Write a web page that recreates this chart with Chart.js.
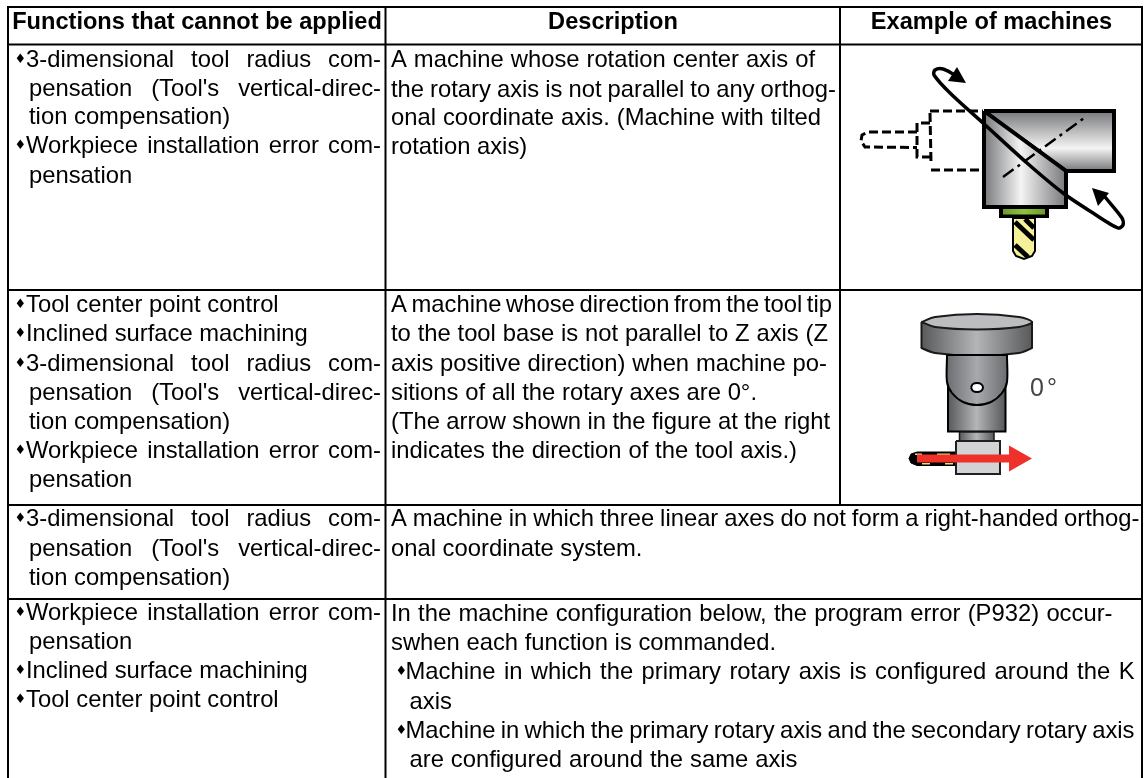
<!DOCTYPE html>
<html>
<head>
<meta charset="utf-8">
<style>
  html, body { margin: 0; padding: 0; background: #fff; }
  canvas { display: block; }
</style>
<script src="https://cdn.jsdelivr.net/npm/chart.js@4/dist/chart.umd.min.js"></script>
</head>
<body>
<canvas id="tabela" width="1148" height="778"></canvas>
<script>
// Table text
const headerLabels = ['Functions that cannot be applied', 'Description', 'Example of machines'];
const functionsRow1 = ['♦3-dimensional tool radius com-', "pensation (Tool's vertical-direc-", 'tion compensation)', '♦Workpiece installation error com-', 'pensation'];
const functionsRow2 = ['♦Tool center point control', '♦Inclined surface machining', '♦3-dimensional tool radius com-', "pensation (Tool's vertical-direc-", 'tion compensation)', '♦Workpiece installation error com-', 'pensation'];
const functionsRow3 = ['♦3-dimensional tool radius com-', "pensation (Tool's vertical-direc-", 'tion compensation)'];
const functionsRow4 = ['♦Workpiece installation error com-', 'pensation', '♦Inclined surface machining', '♦Tool center point control'];
const descriptionRow1 = ['A machine whose rotation center axis of', 'the rotary axis is not parallel to any orthog-', 'onal coordinate axis. (Machine with tilted', 'rotation axis)'];
const descriptionRow2 = ['A machine whose direction from the tool tip', 'to the tool base is not parallel to Z axis (Z', 'axis positive direction) when machine po-', 'sitions of all the rotary axes are 0°.', '(The arrow shown in the figure at the right', 'indicates the direction of the tool axis.)'];
const descriptionRow3 = ['A machine in which three linear axes do not form a right-handed orthog-', 'onal coordinate system.'];
const descriptionRow4 = ['In the machine configuration below, the program error (P932) occur-', 'swhen each function is commanded.', '♦Machine in which the primary rotary axis is configured around the K', 'axis', '♦Machine in which the primary rotary axis and the secondary rotary axis', 'are configured around the same axis'];
const angleLabel = '0°';

// Table rules
const ruleTop = [[7, 1143], [7, 7]];
const ruleHeader = [[7, 1143], [44.5, 44.5]];
const ruleRow1 = [[7, 1143], [290, 290]];
const ruleRow2 = [[7, 1143], [505, 505]];
const ruleRow3 = [[7, 1143], [599, 599]];
const ruleLeft = [[8, 8], [6, 778]];
const ruleCol1 = [[385.5, 385.5], [6, 778]];
const ruleCol2 = [[840, 840], [6, 505]];
const ruleRight = [[1142, 1142], [6, 778]];

// Upper figure (tilted rotation axis)
const arm = [[984, 111], [1114, 111], [1114, 171], [1066, 171]];
const head = [[984, 111], [1066, 171], [1066, 207], [984, 207]];
const centerLine = [[1003, 177], [1087, 116]];
const dashHeadTop = [[930, 111], [983, 111]];
const dashHeadBottom = [[931, 170], [983, 170]];
const dashHeadSide = [[930, 113], [931, 163]];
const dashCollar = [[930, 123], [917, 123], [917, 157], [930, 157]];
const dashTool = [[917, 132], [868, 132], [862, 135], [861, 141], [865, 147], [917, 147.5]];
const collarBlack = [[999, 205], [1049, 205], [1049, 218], [999, 218]];
const collarGreen = [[1003, 209], [1045, 209], [1045, 214.5], [1003, 214.5]];
const tiltedTool = [[1013, 218], [1035, 218], [1035, 251], [1032, 256], [1024, 259], [1016, 256], [1013, 251]];
const toolStripeA = [[1025, 219], [1034, 228]];
const toolStripeB = [[1015, 222], [1034, 240]];
const toolStripeC = [[1015, 245], [1028, 257]];
const rotationRing = [[955, 75], [943, 69], [935, 70], [934, 75], [950, 93], [983, 123], [1027, 163], [1063, 193], [1093, 213], [1118, 228], [1123, 225], [1122, 218], [1105, 197]];
const ringArrowTop = [[957, 67], [966, 83], [948, 81]];
const ringArrowBottom = [[1092, 188], [1109, 193], [1098, 206]];

// Lower figure (tool axis not parallel to Z)
const discSide = [[921.5, 322], [921.5, 323], [921.5, 347], [921.5, 348], [935, 353], [977, 356], [1019, 353], [1032, 348], [1032, 347], [1032, 323], [1032, 322]];
const discTop = [[921.5, 322], [935, 317], [977, 314], [1019, 317], [1032, 322], [1019, 327], [977, 329.5], [935, 327], [921.5, 322]];
const headLower = [[948, 385], [948, 431.5], [1005.5, 431.5], [1005.5, 385]];
const headUpper = [[947, 355], [947, 356], [947, 382], [952, 393], [963, 402], [977, 405], [991, 402], [1002, 393], [1007, 382], [1007, 356], [1007, 355]];
const pivotHole = [[971, 387.5], [973, 384], [977, 383], [981, 384], [983, 387.5], [981, 391], [977, 392], [973, 391], [971, 387.5]];
const neck = [[959.5, 432], [994, 432], [994, 441], [959.5, 441]];
const block = [[956, 441], [1000, 441], [1000, 474], [956, 474]];
const flatTool = [[956, 452], [917, 452], [911, 454], [909, 458.5], [911, 463], [917, 465.5], [956, 465.5]];
const flatYellowA = [[915, 453.5], [922, 453.5], [922, 455], [915, 455]];
const flatYellowB = [[937, 453.5], [950, 453.5], [950, 455], [937, 455]];
const flatYellowC = [[922, 463], [930, 463], [930, 464.5], [922, 464.5]];
const flatYellowD = [[945, 463], [953, 463], [953, 464.5], [945, 464.5]];
const axisArrow = [[917, 454.5], [1009, 454.5], [1009, 445.5], [1032, 458.5], [1009, 471.5], [1009, 462.5], [917, 462.5]];

const canvas = document.getElementById('tabela');
const fonte = 'Liberation Sans, Arial, sans-serif';

function toPoints(par) {
    return par.map(p => ({ x: p[0], y: p[1] }));
}

// Segment stored as [x values, y values]
function rule(r) {
    return line([[r[0][0], r[1][0]], [r[0][1], r[1][1]]], { stroke: '#000', width: 2 });
}

function line(par, o) {
    return {
        data: toPoints(par),
        showLine: true,
        pointRadius: 0,
        fill: false,
        borderColor: o.stroke || 'transparent',
        borderWidth: o.width || 0,
        borderDash: o.dash || [],
        borderJoinStyle: o.join || 'miter',
        borderCapStyle: o.cap || 'butt',
        tension: o.tension || 0
    };
}

// Closed shape: the first point is repeated so the outline closes too
function shape(par, fillColor, o) {
    o = o || {};
    const ds = line(par.concat([par[0]]), o);
    ds.fill = 'shape';
    ds.backgroundColor = fillColor;
    return ds;
}

// Gradient built through the chart scales (the scales have no size before the first layout)
function gradient(x0, y0, x1, y1, stops) {
    return function (c) {
        const sx = c.chart.scales.x, sy = c.chart.scales.y;
        if (!sx || !sy) return stops[0][1];
        const px = [sx.getPixelForValue(x0), sy.getPixelForValue(y0), sx.getPixelForValue(x1), sy.getPixelForValue(y1)];
        if (!px.every(Number.isFinite)) return stops[0][1];
        const g = c.chart.ctx.createLinearGradient(px[0], px[1], px[2], px[3]);
        stops.forEach(s => g.addColorStop(s[0], s[1]));
        return g;
    };
}

const preto = { stroke: '#000', width: 4 };
const tracejado = { stroke: '#000', width: 3, dash: [9, 4] };
const listra = { stroke: '#000', width: 5 };
const metalEscuro = [[0, '#58595b'], [0.5, '#b4b5b7'], [1, '#58595b']];

// Painted back to front, reversed below because Chart.js draws the first dataset last
const camadas = [
    rule(ruleTop), rule(ruleHeader), rule(ruleRow1), rule(ruleRow2), rule(ruleRow3),
    rule(ruleLeft), rule(ruleCol1), rule(ruleCol2), rule(ruleRight),

    line(dashHeadTop, tracejado), line(dashHeadBottom, tracejado), line(dashHeadSide, tracejado),
    line(dashCollar, tracejado), line(dashTool, tracejado),
    shape(arm, gradient(0, 111, 0, 171, [[0, '#77787b'], [0.62, '#f4f4f4'], [1, '#77787b']]), preto),
    shape(head, gradient(984, 0, 1066, 0, [[0, '#77787b'], [0.45, '#f4f4f4'], [1, '#77787b']]), preto),
    line(centerLine, { stroke: '#000', width: 2.5, dash: [13, 5, 3, 5] }),
    shape(tiltedTool, '#f5f19b', { stroke: '#000', width: 2 }),
    line(toolStripeA, listra), line(toolStripeB, listra), line(toolStripeC, listra),
    shape(collarBlack, '#000'),
    shape(collarGreen, gradient(1003, 0, 1045, 0, [[0, '#6f9a2e'], [0.5, '#8fc43f'], [1, '#6f9a2e']])),
    line(rotationRing, { stroke: '#000', width: 3.5, tension: 0.3, join: 'round', cap: 'round' }),
    shape(ringArrowTop, '#000'),
    shape(ringArrowBottom, '#000'),

    shape(discSide, gradient(921, 0, 1032, 0, metalEscuro), { stroke: '#1a1a1a', width: 2, tension: 0.3 }),
    shape(discTop, '#bcbdc0', { stroke: '#1a1a1a', width: 2, tension: 0.35 }),
    shape(headLower, gradient(948, 0, 1005, 0, metalEscuro), { stroke: '#000', width: 2 }),
    shape(headUpper, gradient(947, 0, 1007, 0, [[0, '#6d6e71'], [0.5, '#a7a9ac'], [1, '#6d6e71']]), { stroke: '#000', width: 2, tension: 0.3 }),
    shape(pivotHole, '#fff', { stroke: '#000', width: 2, tension: 0.4 }),
    shape(neck, gradient(959, 0, 994, 0, metalEscuro), { stroke: '#1a1a1a', width: 1.5 }),
    shape(flatTool, '#000', { stroke: '#000', width: 1 }),
    shape(flatYellowA, '#e8de7c'), shape(flatYellowB, '#e8de7c'),
    shape(flatYellowC, '#e8de7c'), shape(flatYellowD, '#e8de7c'),
    shape(block, '#d1d3d4', { stroke: '#231f20', width: 2 }),
    shape(axisArrow, '#ef3229')
];

// Text layout: x start, baseline and right end (null = natural spacing) of every line
const col1 = { bullet: 16, text: 26, hang: 29 };
const col2 = { bullet: 391, text: 391, hang: 391 };
const col2Lista = { bullet: 397, text: 405.5, hang: 409.5 };
const blocosTexto = [
    { lines: functionsRow1, base: [66.5, 95.5, 124, 153, 182.5], ends: [381, 381, null, 381, null], col: col1 },
    { lines: functionsRow2, base: [312, 341, 370.5, 400, 429, 458, 487], ends: [null, null, 381, 381, null, 381, null], col: col1 },
    { lines: functionsRow3, base: [526, 555.5, 585], ends: [381, 381, null], col: col1 },
    { lines: functionsRow4, base: [620, 649, 678, 707], ends: [381, null, null, null], col: col1 },
    { lines: descriptionRow1, base: [67, 96.5, 125, 154], ends: [815, 836, 821, null], col: col2 },
    { lines: descriptionRow2, base: [312, 341, 370.5, 400, 429, 458], ends: [832, 828, 827, 757, 830, 797], col: col2 },
    { lines: descriptionRow3, base: [526, 555.5], ends: [1139.5, null], col: col2 },
    { lines: descriptionRow4.slice(0, 2), base: [621, 650], ends: [1112.5, 776], col: col2 },
    { lines: descriptionRow4.slice(2), base: [679, 709, 738, 767], ends: [1134.5, null, 1134.5, 797.5], col: col2Lista }
];

function desenhaLinha(c, sx, sy, texto, x, yBase, fim) {
    const palavras = texto.split(' ');
    const larguras = palavras.map(p => c.measureText(p).width);
    const soma = larguras.reduce((a, b) => a + b, 0);
    let espaco = c.measureText(' ').width;
    if (fim !== null && palavras.length > 1) {
        espaco = (sx.getPixelForValue(fim) - sx.getPixelForValue(x) - soma) / (palavras.length - 1);
    }
    let px = sx.getPixelForValue(x);
    const py = sy.getPixelForValue(yBase);
    palavras.forEach((p, i) => {
        c.fillText(p, px, py);
        px += larguras[i] + espaco;
    });
}

// Plugin that writes the table text through the chart scales
const textoTabela = {
    id: 'textoTabela',
    beforeDraw(chart) {
        const c = chart.ctx;
        c.save();
        c.fillStyle = '#fff';
        c.fillRect(0, 0, chart.width, chart.height);
        c.restore();
    },
    afterDatasetsDraw(chart) {
        const c = chart.ctx, sx = chart.scales.x, sy = chart.scales.y;
        c.save();
        c.textBaseline = 'alphabetic';
        c.fillStyle = '#000';

        // Header
        c.font = 'bold 23.6px ' + fonte;
        c.textAlign = 'center';
        [197, 613, 991.5].forEach((x, i) => c.fillText(headerLabels[i], sx.getPixelForValue(x), sy.getPixelForValue(28.5)));

        // Body
        c.textAlign = 'left';
        blocosTexto.forEach(b => {
            b.lines.forEach((t, i) => {
                let x = b.col.hang;
                let texto = t;
                if (t[0] === '♦') {
                    c.font = '13px "DejaVu Sans"';
                    c.fillText('♦', sx.getPixelForValue(b.col.bullet - 1.5), sy.getPixelForValue(b.base[i] - 4));
                    x = b.col.text;
                    texto = t.slice(1);
                }
                c.font = '23.8px ' + fonte;
                desenhaLinha(c, sx, sy, texto, x, b.base[i], b.ends[i]);
            });
        });

        // Angle label of the lower figure
        c.fillStyle = '#444';
        c.font = '25px ' + fonte;
        c.letterSpacing = '3px';
        c.fillText(angleLabel, sx.getPixelForValue(1030), sy.getPixelForValue(396));
        c.restore();
    }
};

new Chart(canvas, {
    type: 'scatter',
    data: { datasets: camadas.slice().reverse() },
    options: {
        responsive: false,
        animation: false,
        events: [],
        layout: { padding: 0 },
        plugins: { legend: { display: false }, tooltip: { enabled: false } },
        scales: {
            x: { type: 'linear', min: 0, max: 1148, display: false },
            y: { type: 'linear', min: 0, max: 778, reverse: true, display: false }
        }
    },
    plugins: [textoTabela]
});
</script>
</body>
</html>
